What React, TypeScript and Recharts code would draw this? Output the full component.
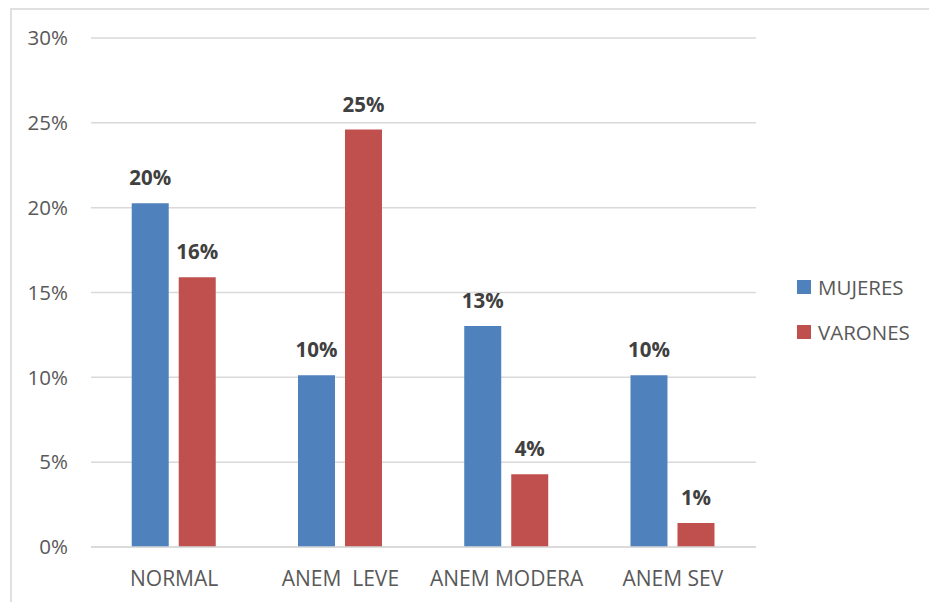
import React from "react";
import { BarChart, Bar, XAxis, YAxis, CartesianGrid, Legend, LabelList } from "recharts";

// Categories and series (share of each group, as fractions)
const categories = ["NORMAL", "ANEM\u00A0 LEVE", "ANEM MODERA", "ANEM SEV"];
const mujeres = [0.2026, 0.1012, 0.1302, 0.1012];
const varones = [0.159, 0.246, 0.0429, 0.0141];
const yTicks = [0, 0.05, 0.1, 0.15, 0.2, 0.25, 0.3];

const seriesNames = { mujeres: "MUJERES", varones: "VARONES" };
const colors = { mujeres: "#4F81BD", varones: "#C0504D" };

const data = categories.map((name, i) => ({
  name,
  mujeres: mujeres[i],
  varones: varones[i],
}));

const FONT = "'Open Sans', sans-serif";
const pct = (v: number) => `${Math.round(v * 100)}%`;

const LEGEND_WIDTH = 130;

const renderLegend = (props: any) => {
  const items = props.payload || [];
  return (
    <div style={{ fontFamily: FONT }}>
      {items.map((it: any) => (
        <div
          key={it.value}
          style={{ display: "flex", alignItems: "center", height: 45 }}
        >
          <span
            style={{
              display: "inline-block",
              width: 14,
              height: 14,
              background: it.color,
              marginRight: 7,
            }}
          />
          <span style={{ fontSize: 20.5, color: "#595959" }}>{it.value}</span>
        </div>
      ))}
    </div>
  );
};

export default function App() {
  return (
    <div
      style={{
        position: "absolute",
        left: 0,
        top: 0,
        width: 929,
        height: 602,
        overflow: "hidden",
        background: "#fff",
      }}
    >
      <div
        style={{
          position: "absolute",
          left: 10,
          top: 8,
          width: 940,
          height: 620,
          border: "2px solid #e0e0e0",
          boxSizing: "border-box",
        }}
      />
      <div style={{ position: "absolute", left: 0, top: 0 }}>
        <BarChart
          width={929}
          height={602}
          data={data}
          margin={{ top: 38, right: 173 - LEGEND_WIDTH, bottom: 0, left: 0 }}
          barCategoryGap="24.5%"
          barGap={10}
        >
          <CartesianGrid vertical={false} stroke="#d9d9d9" strokeWidth={1.5} />
          <XAxis
            dataKey="name"
            height={55}
            tickLine={false}
            tickSize={0}
            tickMargin={24}
            axisLine={{ stroke: "#d9d9d9", strokeWidth: 1.5 }}
            tick={{ fill: "#595959", fontSize: 21, fontFamily: FONT }}
            interval={0}
          />
          <YAxis
            width={91}
            domain={[0, 0.3]}
            ticks={yTicks}
            tickFormatter={pct}
            axisLine={false}
            tickLine={false}
            tickSize={0}
            tickMargin={23}
            tick={{ fill: "#595959", fontSize: 20.5, fontFamily: FONT }}
          />
          <Legend
            layout="vertical"
            verticalAlign="middle"
            align="right"
            content={renderLegend}
            wrapperStyle={{ position: "absolute", left: 797, top: 264, width: LEGEND_WIDTH }}
          />
          <Bar
            dataKey="mujeres"
            name={seriesNames.mujeres}
            fill={colors.mujeres}
            isAnimationActive={false}
          >
            <LabelList
              dataKey="mujeres"
              position="top"
              offset={18}
              formatter={(v: any) => pct(Number(v))}
              style={{ fill: "#404040", fontSize: 20.5, fontWeight: 700, fontFamily: FONT }}
            />
          </Bar>
          <Bar
            dataKey="varones"
            name={seriesNames.varones}
            fill={colors.varones}
            isAnimationActive={false}
          >
            <LabelList
              dataKey="varones"
              position="top"
              offset={18}
              formatter={(v: any) => pct(Number(v))}
              style={{ fill: "#404040", fontSize: 20.5, fontWeight: 700, fontFamily: FONT }}
            />
          </Bar>
        </BarChart>
      </div>
    </div>
  );
}
